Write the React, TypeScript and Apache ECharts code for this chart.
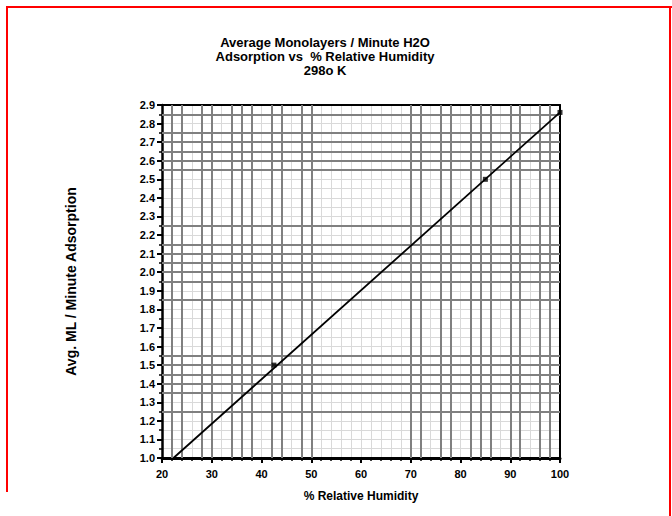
import React, { useEffect, useRef } from "react";
import * as echarts from "echarts";

// ---- data ----
const xTicks = [20, 30, 40, 50, 60, 70, 80, 90, 100];
const yTicks = [1.0, 1.1, 1.2, 1.3, 1.4, 1.5, 1.6, 1.7, 1.8, 1.9, 2.0, 2.1, 2.2, 2.3, 2.4, 2.5, 2.6, 2.7, 2.8, 2.9];
const fitLine: [number, number][] = [
  [22.3, 1.0],
  [100, 2.86],
];
const measured: [number, number][] = [
  [42.5, 1.5],
  [85, 2.5],
  [100, 2.86],
];
// heavier grey grid lines seen in the reference
const darkX = [22, 24, 28, 30, 34, 36, 38, 42, 44, 48, 50, 70, 72, 76, 78, 82, 84, 86, 90, 92, 96, 98];
const darkY = [1.25, 1.35, 1.4, 1.45, 1.5, 1.55, 1.85, 1.95, 2.0, 2.05, 2.1, 2.15, 2.25, 2.55, 2.6, 2.65, 2.7, 2.75, 2.85];

const titleText = "Average Monolayers / Minute H2O\nAdsorption vs  % Relative Humidity\n298o K";
const xName = "% Relative Humidity";
const yName = "Avg. ML / Minute Adsorption";

const FONT = "'Liberation Sans', Arial, Helvetica, sans-serif";

export default function App() {
  const ref = useRef<HTMLDivElement>(null);
  useEffect(() => {
    document.body.style.margin = "0";
    if (!ref.current) return;
    const chart = echarts.init(ref.current, null, { renderer: "svg" });
    const lightGrid = { show: true, lineStyle: { color: "#d9d9d9", width: 1 } };
    chart.setOption({
      animation: false,
      backgroundColor: "#ffffff",
      title: {
        text: titleText,
        left: 320,
        top: 30,
        textAlign: "center",
        textStyle: { fontFamily: FONT, fontSize: 13, fontWeight: "bold", color: "#000", lineHeight: 14 },
      },
      grid: { left: 162, right: 112, top: 105, bottom: 58, containLabel: false },
      xAxis: [
        {
          type: "value",
          min: xTicks[0],
          max: xTicks[xTicks.length - 1],
          interval: 10,
          position: "bottom",
          name: xName,
          nameLocation: "middle",
          nameGap: 32,
          nameTextStyle: { fontFamily: FONT, fontSize: 12, fontWeight: "bold", color: "#000" },
          axisLine: { show: true, onZero: false, lineStyle: { color: "#000", width: 3 } },
          axisTick: { show: true, length: 5, lineStyle: { color: "#000", width: 2 } },
          minorTick: { show: true, splitNumber: 5, length: 3, lineStyle: { color: "#000", width: 1.5 } },
          axisLabel: { fontFamily: FONT, fontSize: 11, fontWeight: "bold", color: "#000", margin: 10 },
          splitLine: lightGrid,
          minorSplitLine: lightGrid,
        },
        {
          type: "value",
          min: xTicks[0],
          max: xTicks[xTicks.length - 1],
          interval: 10,
          position: "top",
          axisLine: { show: true, onZero: false, lineStyle: { color: "#000", width: 2 } },
          axisTick: { show: false },
          axisLabel: { show: false },
          splitLine: { show: false },
        },
      ],
      yAxis: [
        {
          type: "value",
          min: yTicks[0],
          max: yTicks[yTicks.length - 1],
          interval: 0.1,
          position: "left",
          name: yName,
          nameLocation: "middle",
          nameGap: 84,
          nameRotate: 90,
          nameTextStyle: { fontFamily: FONT, fontSize: 14, fontWeight: "bold", color: "#000" },
          axisLine: { show: true, onZero: false, lineStyle: { color: "#000", width: 2.5 } },
          axisTick: { show: true, length: 5, lineStyle: { color: "#000", width: 2 } },
          minorTick: { show: true, splitNumber: 2, length: 3, lineStyle: { color: "#000", width: 1.5 } },
          axisLabel: {
            fontFamily: FONT,
            fontSize: 11,
            fontWeight: "bold",
            color: "#000",
            margin: 7,
            formatter: (v: number) => v.toFixed(1),
          },
          splitLine: lightGrid,
          minorSplitLine: lightGrid,
        },
        {
          type: "value",
          min: yTicks[0],
          max: yTicks[yTicks.length - 1],
          interval: 0.1,
          position: "right",
          axisLine: { show: true, onZero: false, lineStyle: { color: "#000", width: 2 } },
          axisTick: { show: false },
          axisLabel: { show: false },
          splitLine: { show: false },
        },
      ],
      series: [
        {
          name: "grid",
          type: "line",
          data: [],
          z: 1,
          silent: true,
          markLine: {
            silent: true,
            symbol: ["none", "none"],
            label: { show: false },
            lineStyle: { color: "#808080", width: 2, type: "solid" },
            emphasis: { disabled: true },
            data: [...darkX.map((v) => ({ xAxis: v })), ...darkY.map((v) => ({ yAxis: v }))],
          },
        },
        {
          name: "fit",
          type: "line",
          data: fitLine,
          z: 5,
          showSymbol: false,
          symbol: "none",
          lineStyle: { color: "#000", width: 1.8 },
        },
        {
          name: "measured",
          type: "scatter",
          data: measured,
          z: 6,
          symbol: "rect",
          symbolSize: 5,
          itemStyle: { color: "#000" },
        },
      ],
      graphic: [
        { type: "line", shape: { x1: 7, y1: 7, x2: 672, y2: 7 }, style: { stroke: "#ff0000", lineWidth: 2 } },
        { type: "line", shape: { x1: 7, y1: 6, x2: 7, y2: 492 }, style: { stroke: "#ff0000", lineWidth: 2 } },
        { type: "line", shape: { x1: 670, y1: 6, x2: 670, y2: 516 }, style: { stroke: "#ff0000", lineWidth: 2 } },
      ],
    });
    return () => chart.dispose();
  }, []);
  return <div ref={ref} style={{ width: 672, height: 516 }} />;
}
